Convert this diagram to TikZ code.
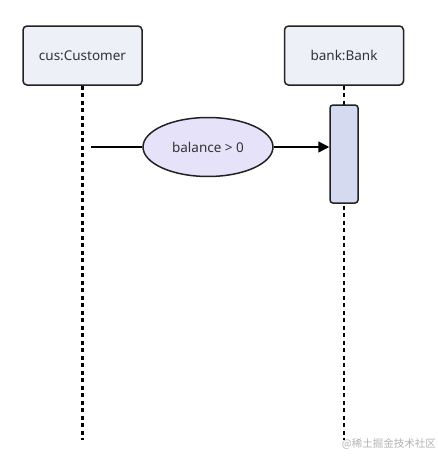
\documentclass[tikz,border=0pt]{standalone}
\usepackage{fontspec}
\setmainfont{Noto Sans}
\newfontfamily\cjk{Noto Sans CJK SC}
\usetikzlibrary{shapes.geometric,arrows.meta}
\definecolor{boxfill}{HTML}{EEF0F8}
\definecolor{ellfill}{HTML}{E6E2FA}
\definecolor{actfill}{HTML}{D6DAF0}
\definecolor{edge}{HTML}{222222}
\tikzset{
  objbox/.style={draw=edge, fill=boxfill, line width=1.5pt, rounded corners=4pt, minimum width=119pt, minimum height=59pt, inner sep=0pt, font=\fontsize{13.5}{15}\selectfont, text=black!80},
  lifeline/.style={draw=black, line width=2.3pt, dash pattern=on 4pt off 3.5pt},
  actbox/.style={draw=edge, fill=actfill, line width=1.5pt, rounded corners=3pt, minimum width=28pt, minimum height=98pt, inner sep=0pt},
  guard/.style={ellipse, draw=edge, fill=ellfill, line width=1.5pt, minimum width=130pt, minimum height=59pt, inner sep=0pt, font=\fontsize{13.5}{15}\selectfont, text=black!80},
  msg/.style={draw=black, line width=1.5pt},
}
\begin{document}
\begin{tikzpicture}[x=1pt,y=-1pt]
\useasboundingbox (0,0) rectangle (438,463);
\node[objbox] (cus) at (82.5,55.5) {cus:Customer};
\node[objbox] (bank) at (344,55.5) {bank:Bank};
\coordinate (cusend) at (82.5,440);
\coordinate (bankend) at (344,440);
\draw[lifeline] (cus.south) -- (cusend);
\draw[lifeline] (bank.south) -- (bankend);
\node[actbox] (act) at (344,154) {};
\node[guard] (g) at (208,147) {balance > 0};
\coordinate (start) at (91,147);
\draw[msg] (start) -- (g.west);
\draw[msg,-{Triangle[length=11pt,width=11pt]}] (g.east) -- (act.west |- g.east);
\node[anchor=east, text=black!30, font=\cjk\fontsize{10.5}{12}\selectfont, inner sep=0pt] (wm) at (436,444) {@稀土掘金技术社区};
\end{tikzpicture}
\end{document}
